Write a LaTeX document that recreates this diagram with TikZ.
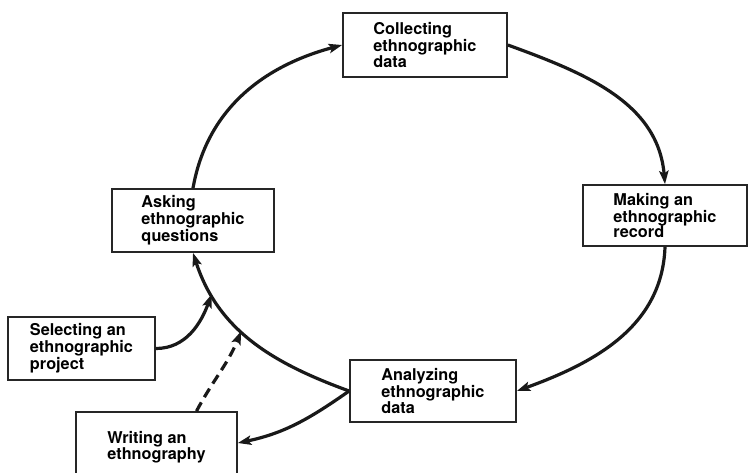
\documentclass[tikz,border=0pt]{standalone}
\usepackage{fontspec}
\setmainfont{TeX Gyre Heros}
\usetikzlibrary{arrows.meta}
\begin{document}
\begin{tikzpicture}[x=0.75pt,y=-0.75pt,
  stagebox/.style={draw=black!85,line width=1.3pt,fill=white,align=left,inner sep=0pt,
    font=\fontsize{12.2}{11.6}\selectfont\bfseries},
  flow/.style={line width=2.4pt,draw=black!90,-{Stealth[length=10pt,width=7pt,inset=2pt]}},
  dashflow/.style={flow,dash pattern=on 7.5pt off 4.5pt}]
\useasboundingbox[fill=white] (0,0) rectangle (749,472);
\node[stagebox,minimum width=123pt,minimum height=48pt] (coll) at (425,45) {Collecting\\ethnographic\\data};
\node[stagebox,minimum width=123pt,minimum height=45.75pt] (make) at (665,215.5) {Making an\\ethnographic\\record};
\node[stagebox,minimum width=121.5pt,minimum height=47.25pt] (ask) at (193,220.5) {Asking\\ethnographic\\questions};
\node[stagebox,minimum width=110.25pt,minimum height=47.25pt] (sel) at (81.5,348.5) {Selecting an\\ethnographic\\project};
\node[stagebox,minimum width=124.5pt,minimum height=46.5pt] (anal) at (433,391) {Analyzing\\ethnographic\\data};
\node[stagebox,minimum width=120.75pt,minimum height=52.5pt] (write) at (156.5,447) {Writing an\\ethnography};
\draw[flow] (ask.north) to[out=80,in=195] (coll.west);
\draw[flow] (coll.east) to[out=-20,in=95] (make.north);
\draw[flow] (make.south) to[out=-92,in=20] (anal.east);
\draw[flow] (anal.west) to[out=160,in=-72] coordinate[pos=0.57] (pdash) coordinate[pos=0.8] (psel) (ask.south);
\draw[flow] (anal.west) to[out=-145,in=12] ([yshift=3pt]write.east);
\draw[flow] (sel.east) to[out=0,in=-110] (psel);
\draw[dashflow] ([xshift=30pt]write.north) to[out=62,in=-112] (pdash);
\end{tikzpicture}
\end{document}
